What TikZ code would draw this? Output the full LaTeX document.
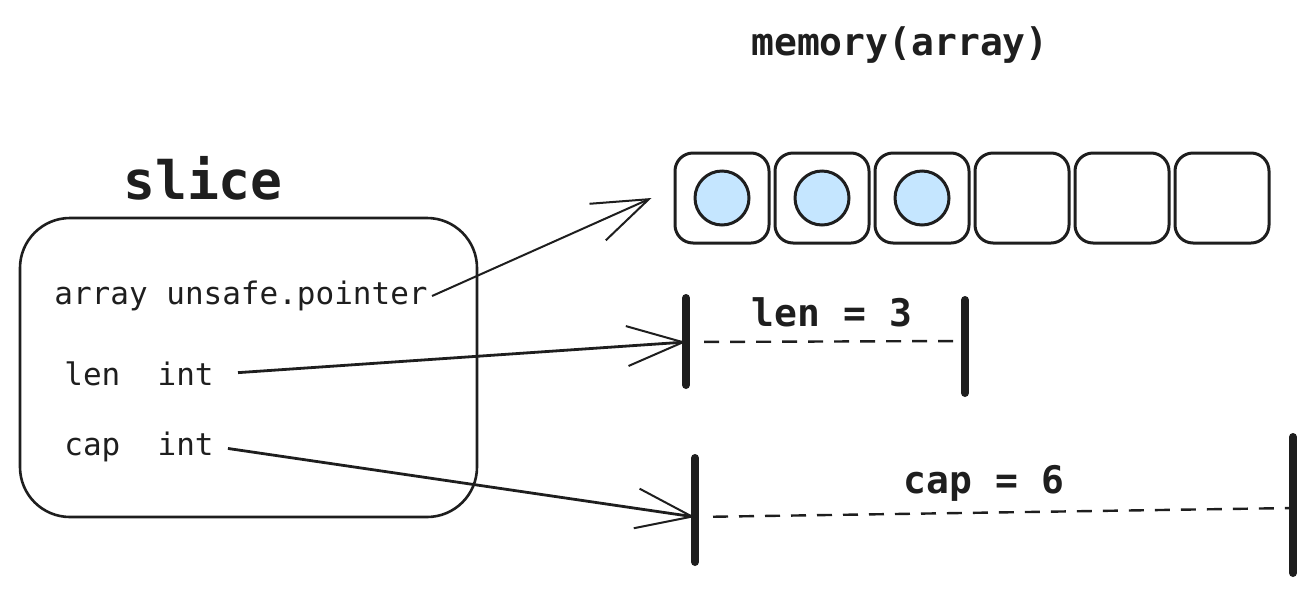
\documentclass[tikz,border=0pt]{standalone}
\usepackage{fontspec}
\setmonofont{DejaVu Sans Mono}
\usepackage{tikz}
\usetikzlibrary{arrows.meta}
\definecolor{ink}{HTML}{1E1E1E}
\definecolor{cellblue}{HTML}{A5D8FF}

\begin{document}
\begin{tikzpicture}[x=0.5pt, y=-0.5pt, ink,
cell/.style={draw=ink, line width=1.5pt, rounded corners=9pt, minimum width=47pt, minimum height=45pt, inner sep=0pt},
dot/.style={circle, draw=ink, line width=1.5pt, fill=cellblue!65, minimum size=27pt, inner sep=0pt},
field/.style={font=\ttfamily\fontsize{15.5}{18}\selectfont, inner sep=2pt},
title/.style={font=\ttfamily\bfseries\fontsize{19}{22}\selectfont},
arrow/.style={line width=1pt, -{Straight Barb[length=28pt, width=20pt, line width=1pt]}},
bar/.style={line width=4pt, line cap=round},
measure/.style={line width=1.2pt, dash pattern=on 7.5pt off 5.5pt}
]
\useasboundingbox (0,0) rectangle (1315,590);
%Nodes
\node[title]                        (memtitle)  at (900,45)   {memory(array)};
\node[font=\ttfamily\bfseries\fontsize{26.5}{30}\selectfont] (slicetitle) at (203,178) {slice};
\node[draw=ink, line width=1.3pt, rounded corners=25pt, minimum width=228.5pt, minimum height=149.5pt]
                                    (slicebox)  at (248.5,367.5) {};
\node[field]                        (arrayf)    at (241,296)  {array unsafe.pointer};
\node[field]                        (lenf)      at (139,374)  {len~~int};
\node[field]                        (capf)      at (139,447)  {cap~~int};
\foreach \i in {0,...,5}
  \node[cell] (cell\i) at ({722+100*\i},198) {};
\foreach \i in {0,1,2}
  \node[dot] (dot\i) at (cell\i) {};
\coordinate (lenL) at (686,342);
\coordinate (lenR) at (965,341);
\coordinate (capL) at (695,517);
\coordinate (capR) at (1293,508);
\node[title]                        (lenlabel)  at (832,312)  {len = 3};
\node[title]                        (caplabel)  at (984,483)  {cap = 6};
%Lines
\draw[arrow] (arrayf.east) -- ([xshift=-11pt]cell0.west);
\draw[arrow, line width=1.4pt, shorten <=10pt] (lenf.east) -- (lenL);
\draw[arrow, line width=1.4pt, shorten <=5pt]  (capf.east) -- (capL);
\draw[bar] (lenL) ++(0,-44) -- ++(0,87);
\draw[bar] (lenR) ++(0,-41) -- ++(0,93);
\draw[bar] (capL) ++(0,-59) -- ++(0,104);
\draw[bar] (capR) ++(0,-71) -- ++(0,136);
\draw[measure, shorten <=9pt, shorten >=4pt] (lenL) -- (lenR);
\draw[measure, shorten <=9pt, shorten >=2pt] (capL) -- (capR);
\end{tikzpicture}
\end{document}
